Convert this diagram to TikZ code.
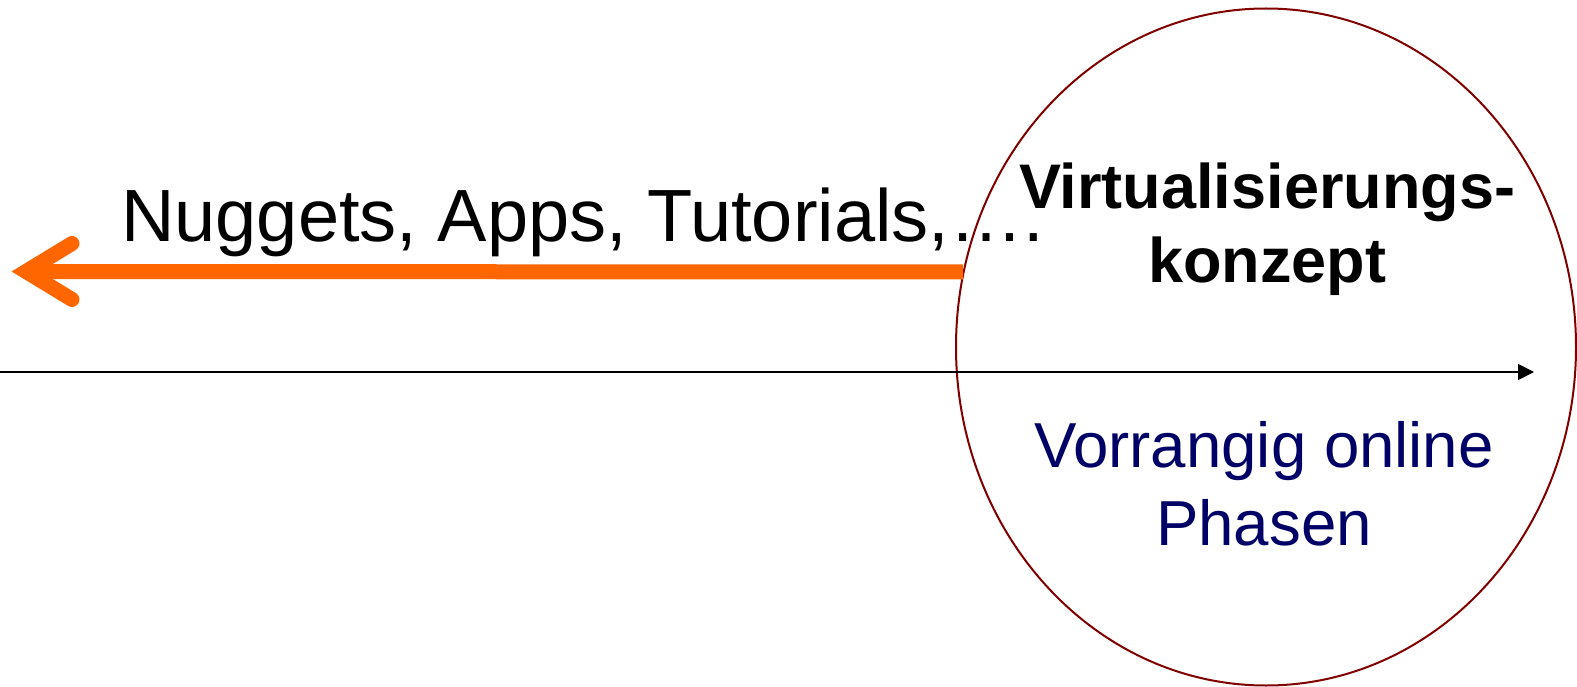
\documentclass[tikz,border=0pt]{standalone}
\usepackage{fontspec}
\setmainfont{Liberation Sans}
\usetikzlibrary{arrows.meta,shapes.geometric}
\definecolor{arroworange}{RGB}{255,102,0}
\definecolor{ringred}{RGB}{128,0,0}
\definecolor{navytext}{RGB}{0,0,102}
\tikzset{
  ring/.style={draw=ringred, line width=2pt, ellipse, minimum width=620pt, minimum height=677pt, inner sep=0pt, outer sep=0pt},
  thickorange/.style={draw=arroworange, line width=15pt, line cap=butt},
  chevron/.style={draw=arroworange, line width=15pt, line cap=round, line join=miter},
  axisline/.style={draw=black, line width=1.5pt, -{Triangle[length=16pt,width=16pt]}},
  bigtext/.style={font=\fontsize{74}{86}\selectfont, inner sep=0pt},
  boldtext/.style={font=\fontsize{63}{74}\selectfont\bfseries, align=center, inner sep=0pt},
  bluetext/.style={font=\fontsize{63.6}{78}\selectfont, text=navytext, align=center, inner sep=0pt}
}
\begin{document}
\begin{tikzpicture}[x=1pt,y=-1pt]
\useasboundingbox (0,0) rectangle (1577,687);
\node[ring] (ell) at (1266,347) {};
\coordinate (shaftend) at (963,272);
\coordinate (shafttip) at (30,271.5);
\coordinate (armtop) at (72,243.5);
\coordinate (armbot) at (72,299.5);
\coordinate (vertex) at (26,271.5);
\draw[thickorange] (shaftend) -- (shafttip);
\draw[chevron] (armtop) -- (vertex) -- (armbot);
\coordinate (axisstart) at (0,372);
\coordinate (axisend) at (1534,372);
\draw[axisline] (axisstart) -- (axisend);
\node[bigtext, anchor=base west] (nuggets) at (121,242) {Nuggets, Apps, Tutorials,….};
\node[boldtext, anchor=base] (virt) at (1267,209) {Virtualisierungs-};
\node[boldtext, anchor=base] (konz) at (1267,283) {konzept};
\node[bluetext, anchor=base] (vorr) at (1264,467) {Vorrangig online};
\node[bluetext, anchor=base] (phas) at (1264,545) {Phasen};
\end{tikzpicture}
\end{document}
